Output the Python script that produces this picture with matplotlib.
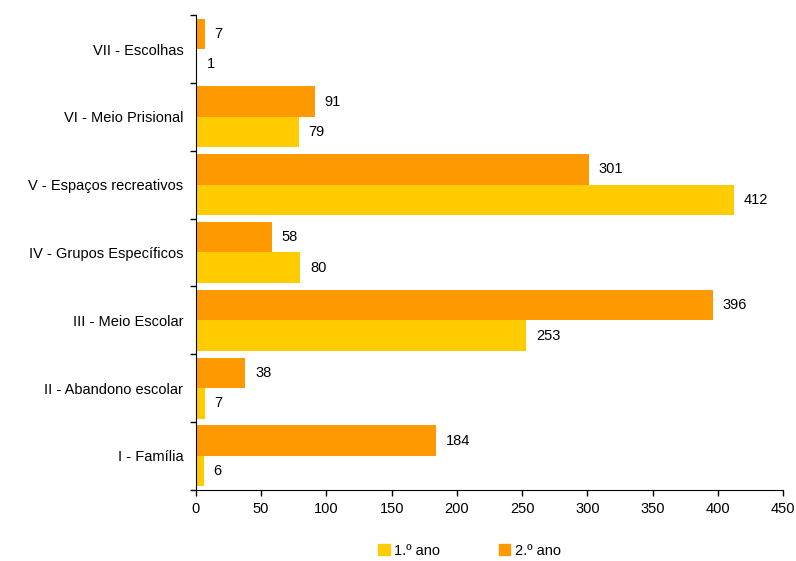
import numpy as np
import matplotlib.pyplot as plt
from matplotlib.patches import Patch

plt.rcParams['font.family'] = ['Liberation Sans', 'DejaVu Sans']

# Categories listed bottom to top
categories = ["I - Família", "II - Abandono escolar", "III - Meio Escolar",
              "IV - Grupos Específicos", "V - Espaços recreativos",
              "VI - Meio Prisional", "VII - Escolhas"]
ano1 = [6, 7, 253, 80, 412, 79, 1]
ano2 = [184, 38, 396, 58, 301, 91, 7]

yellow = '#FFCC00'
orange = '#FF9900'
fs = 10.5

fig = plt.figure(figsize=(7.96, 5.61), dpi=100)
ax = fig.add_axes([0.246, 0.127, 0.738, 0.846])

y = np.arange(len(categories))
h = 0.45
ax.barh(y - h / 2, ano1, height=h, color=yellow)
ax.barh(y + h / 2, ano2, height=h, color=orange)

for yi, v in zip(y - h / 2, ano1):
    ax.text(v + 7.5, yi, str(v), va='center', ha='left', fontsize=fs)
for yi, v in zip(y + h / 2, ano2):
    ax.text(v + 7.5, yi, str(v), va='center', ha='left', fontsize=fs)

ax.set_xlim(0, 450)
ax.set_ylim(-0.5, len(categories) - 0.5)
ax.set_xticks(np.arange(0, 451, 50))
ax.tick_params(axis='x', labelsize=fs, length=4, width=1, pad=5)

# category labels between boundary ticks
ax.set_yticks(np.arange(-0.5, len(categories), 1))
ax.set_yticklabels([])
ax.set_yticks(y, minor=True)
ax.set_yticklabels(categories, minor=True, fontsize=fs)
ax.tick_params(axis='y', which='minor', length=0, pad=9)
ax.tick_params(axis='y', which='major', length=4, width=1)

for side in ['top', 'right']:
    ax.spines[side].set_visible(False)
ax.spines['left'].set_color('black')
ax.spines['bottom'].set_color('black')

handles = [Patch(color=yellow, label='1.º ano'), Patch(color=orange, label='2.º ano')]
fig.legend(handles=handles, loc='lower center', bbox_to_anchor=(0.59, -0.018), ncol=2,
           frameon=False, fontsize=fs, handlelength=0.8, handleheight=0.8,
           handletextpad=0.3, columnspacing=4)

fig.savefig('out.png', dpi=100)
